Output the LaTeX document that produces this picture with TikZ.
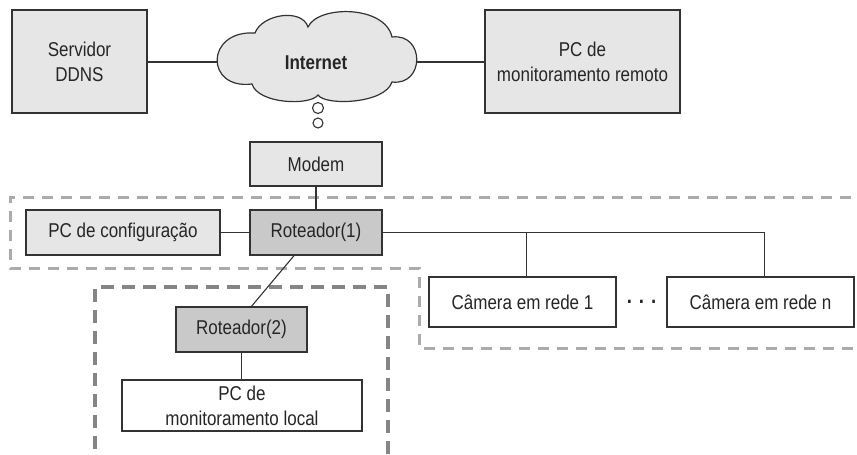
\documentclass[tikz,border=0pt]{standalone}
\usepackage{fontspec}
\setmainfont{Liberation Sans}[FakeStretch=0.85]
\definecolor{boxgray}{HTML}{E6E6E7}
\definecolor{routergray}{HTML}{C9C9CA}
\definecolor{linegray}{HTML}{333333}
\definecolor{lightdash}{HTML}{ABABAB}
\definecolor{darkdash}{HTML}{858585}

\begin{document}
\begin{tikzpicture}[x=1pt, y=-1pt,
	box/.style={draw=linegray, line width=1.3pt, fill=boxgray, inner sep=0pt, align=center,
		font=\fontsize{20}{25}\selectfont, text=black!85},
	router/.style={box, fill=routergray},
	camerabox/.style={box, fill=white},
	link/.style={draw=linegray, line width=1.1pt},
	netzone/.style={draw=lightdash, line width=3pt, dash pattern=on 11pt off 8pt},
	localzone/.style={draw=darkdash, line width=4pt, dash pattern=on 13pt off 8pt}]
	\useasboundingbox (0,0) rectangle (857,455);

	% network zones
	\draw[netzone] (870,197) -- (10,197) -- (10,268) -- (419,268) -- (419,348) -- (870,348);
	\draw[localzone] (95,470) -- (95,287) -- (388,287) -- (388,470);

	% internet cloud
	\filldraw[draw=linegray, line width=1.2pt, fill=boxgray]
		(252,84) .. controls (205,90) and (205,30) .. (255,33)
		.. controls (262,14) and (302,8) .. (308,27)
		.. controls (318,5) and (385,5) .. (392,37)
		.. controls (425,33) and (425,86) .. (392,82)
		.. controls (385,104) and (325,106) .. (318,95)
		.. controls (310,106) and (258,104) .. (252,84) -- cycle;
	\coordinate (cloudW) at (217,62);
	\coordinate (cloudE) at (417,62);
	\node[font=\fontsize{20}{25}\selectfont\bfseries, text=black!85] (internet) at (316,63) {Internet};
	\draw[draw=linegray, line width=1.1pt] (318,108) circle (5.5);
	\draw[draw=linegray, line width=1.1pt] (318,123) circle (5);

	% top row
	\node[box, minimum width=135, minimum height=103] (ddns) at (79.5,61.5) {Servidor\\DDNS};
	\node[box, minimum width=195, minimum height=103] (remote) at (582.5,61.5) {PC de\\monitoramento remoto};
	\node[box, minimum width=132, minimum height=44] (modem) at (316,164) {Modem};

	% local network
	\node[box, minimum width=194, minimum height=45] (config) at (123,232.5) {PC de configuração};
	\node[router, minimum width=132, minimum height=45] (rot1) at (316,232.5) {Roteador(1)};
	\node[router, minimum width=131, minimum height=45] (rot2) at (241.5,329.5) {Roteador(2)};
	\node[camerabox, minimum width=240, minimum height=51] (pclocal) at (242,405.5) {PC de\\monitoramento local};
	\node[camerabox, minimum width=187, minimum height=50] (cam1) at (522.5,302) {Câmera em rede 1};
	\node[camerabox, minimum width=187, minimum height=50] (camn) at (760.5,302) {Câmera em rede n};
	\node[font=\fontsize{22}{25}\selectfont\bfseries, text=black!85] (dots) at (641.5,302) {. . .};

	% connections
	\draw[link] (ddns.east |- cloudW) -- (cloudW);
	\draw[link] (cloudE) -- (remote.west |- cloudE);
	\draw[link] (modem.south) -- (rot1.north);
	\draw[link] (config.east) -- (rot1.west);
	\draw[link] (rot1.east) -| ([xshift=4]camn.north);
	\draw[link] ([xshift=4]cam1.north) -- ([xshift=4]cam1.north |- rot1.east);
	\draw[link] ([xshift=-22]rot1.south) -- ([xshift=10]rot2.north);
	\draw[link] (rot2.south) -- (rot2.south |- pclocal.north);
\end{tikzpicture}
\end{document}
